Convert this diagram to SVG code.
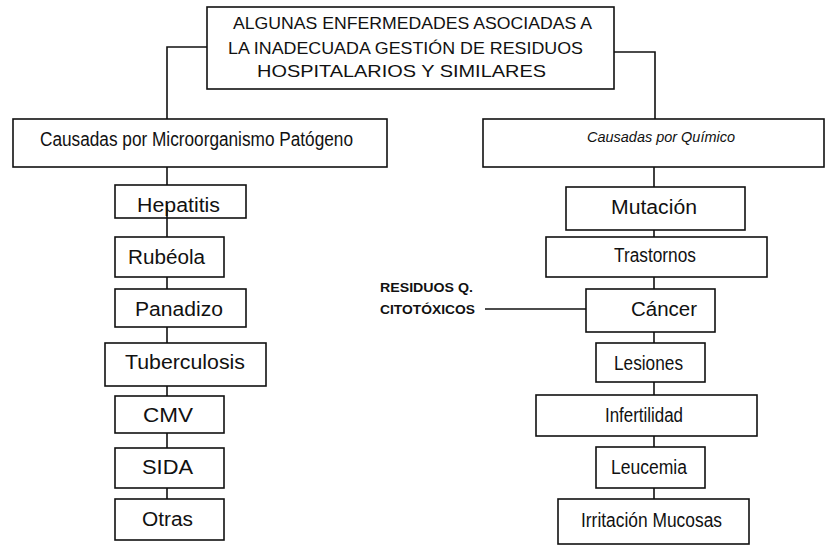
<svg xmlns="http://www.w3.org/2000/svg" width="825" height="546" viewBox="0 0 825 546">
<style>
rect{fill:#fff;stroke:#111;stroke-width:1.6}
text{font-family:"Liberation Sans",Arial,sans-serif;fill:#111}
.t{font-size:17px}
.n{font-size:20px}
.c{font-size:20px}
.i{font-size:14px;font-style:italic}
.s{font-size:13px;font-weight:bold}
#connectors line{stroke:#111;stroke-width:1.6}
</style>
<rect width="825" height="546" style="fill:#fff;stroke:none"/>
<g id="connectors">
<polyline points="207,47 167,47 167,119" style="fill:none;stroke:#111;stroke-width:1.6"/>
<polyline points="614,52 655,52 655,119" style="fill:none;stroke:#111;stroke-width:1.6"/>
<line x1="167" y1="167" x2="167" y2="185"/>
<line x1="167" y1="205" x2="167" y2="237"/>
<line x1="167" y1="277" x2="167" y2="289"/>
<line x1="167" y1="327" x2="167" y2="343"/>
<line x1="167" y1="386" x2="167" y2="396"/>
<line x1="167" y1="433" x2="167" y2="448"/>
<line x1="167" y1="488" x2="167" y2="499"/>
<line x1="654" y1="167" x2="654" y2="187"/>
<line x1="654" y1="230" x2="654" y2="237"/>
<line x1="654" y1="277" x2="654" y2="289"/>
<line x1="654" y1="332" x2="654" y2="343"/>
<line x1="654" y1="382" x2="654" y2="395"/>
<line x1="654" y1="436" x2="654" y2="447"/>
<line x1="654" y1="488" x2="654" y2="499"/>
<line x1="485" y1="309" x2="586" y2="309"/>
</g>
<g id="title">
<rect x="207" y="7" width="407" height="82"/>
<text class="t" x="233" y="29" textLength="359" lengthAdjust="spacingAndGlyphs">ALGUNAS ENFERMEDADES ASOCIADAS A</text>
<text class="t" x="228" y="54" textLength="355" lengthAdjust="spacingAndGlyphs">LA INADECUADA GESTIÓN DE RESIDUOS</text>
<text class="t" x="257" y="77" textLength="289" lengthAdjust="spacingAndGlyphs">HOSPITALARIOS Y SIMILARES</text>
</g>
<g id="micro">
<rect x="13" y="119" width="374" height="48"/>
<text class="c" x="40" y="146" textLength="313" lengthAdjust="spacingAndGlyphs">Causadas por Microorganismo Patógeno</text>
</g>
<g id="quimico">
<rect x="483" y="119" width="341" height="48"/>
<text class="i" x="587" y="142" textLength="148" lengthAdjust="spacingAndGlyphs">Causadas por Químico</text>
</g>
<g id="hepatitis"><rect x="115" y="185" width="131" height="33"/><text class="n" x="137" y="212" textLength="83" lengthAdjust="spacingAndGlyphs">Hepatitis</text></g>
<line x1="167" y1="205" x2="167" y2="218" style="stroke:#111;stroke-width:1.6"/>
<g id="rubeola"><rect x="115" y="237" width="109" height="40"/><text class="n" x="128" y="264" textLength="77" lengthAdjust="spacingAndGlyphs">Rubéola</text></g>
<g id="panadizo"><rect x="115" y="289" width="131" height="38"/><text class="n" x="135" y="316" textLength="88" lengthAdjust="spacingAndGlyphs">Panadizo</text></g>
<g id="tuberculosis"><rect x="105" y="343" width="161" height="43"/><text class="n" x="125" y="369" textLength="120" lengthAdjust="spacingAndGlyphs">Tuberculosis</text></g>
<g id="cmv"><rect x="115" y="396" width="109" height="37"/><text class="n" x="143" y="422" textLength="50" lengthAdjust="spacingAndGlyphs">CMV</text></g>
<g id="sida"><rect x="115" y="448" width="109" height="40"/><text class="n" x="142" y="474" textLength="51" lengthAdjust="spacingAndGlyphs">SIDA</text></g>
<g id="otras"><rect x="115" y="499" width="109" height="41"/><text class="n" x="142" y="526" textLength="51" lengthAdjust="spacingAndGlyphs">Otras</text></g>
<g id="mutacion"><rect x="566" y="187" width="179" height="43"/><text class="n" x="611" y="214" textLength="86" lengthAdjust="spacingAndGlyphs">Mutación</text></g>
<g id="trastornos"><rect x="546" y="237" width="221" height="40"/><text class="n" x="614" y="262" textLength="82" lengthAdjust="spacingAndGlyphs">Trastornos</text></g>
<g id="cancer"><rect x="586" y="289" width="129" height="43"/><text class="n" x="631" y="316" textLength="66" lengthAdjust="spacingAndGlyphs">Cáncer</text></g>
<g id="lesiones"><rect x="596" y="343" width="109" height="39"/><text class="n" x="614" y="370" textLength="69" lengthAdjust="spacingAndGlyphs">Lesiones</text></g>
<g id="infertilidad"><rect x="536" y="395" width="221" height="41"/><text class="n" x="605" y="422" textLength="78" lengthAdjust="spacingAndGlyphs">Infertilidad</text></g>
<g id="leucemia"><rect x="596" y="447" width="109" height="41"/><text class="n" x="611" y="474" textLength="76" lengthAdjust="spacingAndGlyphs">Leucemia</text></g>
<g id="irritacion"><rect x="558" y="499" width="191" height="45"/><text class="n" x="581" y="527" textLength="141" lengthAdjust="spacingAndGlyphs">Irritación Mucosas</text></g>
<g id="residuos">
<text class="s" x="380" y="292" textLength="93" lengthAdjust="spacingAndGlyphs">RESIDUOS Q.</text>
<text class="s" x="380" y="314" textLength="95" lengthAdjust="spacingAndGlyphs">CITOTÓXICOS</text>
</g>
</svg>
